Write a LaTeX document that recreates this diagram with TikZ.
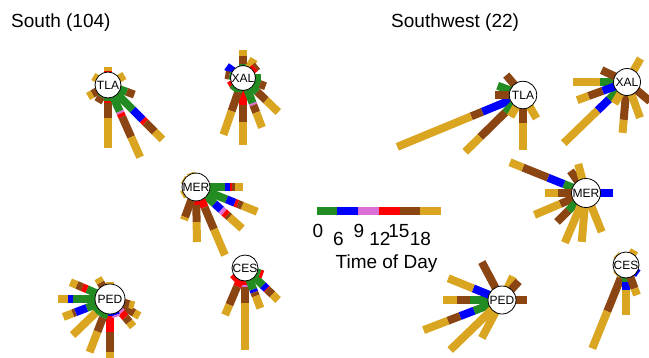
\documentclass[tikz,border=0pt]{standalone}
\usepackage{fontspec}
\setmainfont{Liberation Sans}
\usetikzlibrary{calc}
\definecolor{c0}{RGB}{34,139,34}
\definecolor{c6}{RGB}{0,0,255}
\definecolor{c9}{RGB}{218,112,214}
\definecolor{c12}{RGB}{255,0,0}
\definecolor{c15}{RGB}{139,69,19}
\definecolor{c18}{RGB}{218,165,32}
\def\spoke(#1)(#2)#3{\foreach \col/\rr [remember=\rr as \lastr (initially 0)] in {#3} {\draw[line width=8, color=\col, shift={(#1)}] (#2:\lastr) -- (#2:\rr);}}
\tikzset{
	station/.style={circle, draw=black, line width=0.8, fill=white, inner sep=0pt, font=\fontsize{12}{12}\selectfont},
	title/.style={anchor=base west, inner sep=0pt, font=\fontsize{19}{19}\selectfont},
	hour/.style={anchor=base, inner sep=0pt, font=\fontsize{19}{19}\selectfont}
}

\begin{document}
\begin{tikzpicture}[x=1pt, y=1pt]
		%%%%% START %%%%%
		\useasboundingbox (0,0) rectangle (649,-357);
		
		\node[title] (south) at (11,-27.5) {South (104)};
		\node[title] (southwest) at (391,-27.5) {Southwest (22)};
		
		%% South
		\coordinate (tlaS) at (108,-85);
		\coordinate (xalS) at (243,-78);
		\coordinate (merS) at (196,-187);
		\coordinate (pedS) at (110,-299);
		\coordinate (cesS) at (245,-268);
		
		\spoke(tlaS)(-90){c0/16, c12/18, c15/33, c18/63}
		\spoke(tlaS)(-66){c0/29, c9/31, c12/35, c15/57, c18/79}
		\spoke(tlaS)(-45){c0/35, c6/49, c12/53, c15/66, c18/77}
		\spoke(tlaS)(-20){c0/20, c15/28}
		\spoke(tlaS)(30){c18/19}
		\spoke(tlaS)(90){c12/14, c18/18}
		\spoke(tlaS)(150){c18/17}
		\spoke(tlaS)(-150){c15/18, c18/23}
		\spoke(tlaS)(-120){c0/14, c15/20}
		
		\spoke(xalS)(-90){c12/27, c15/44, c18/67}
		\spoke(xalS)(-109){c0/15, c15/35, c18/60}
		\spoke(xalS)(-69){c0/27, c9/29, c15/37, c18/53}
		\spoke(xalS)(-44){c0/20, c15/32, c18/49}
		\spoke(xalS)(-20){c0/18, c15/24}
		\spoke(xalS)(0){c0/18}
		\spoke(xalS)(90){c0/14, c15/22, c18/28}
		\spoke(xalS)(60){c18/22}
		\spoke(xalS)(40){c12/16, c15/19}
		\spoke(xalS)(145){c6/20}
		\spoke(xalS)(170){c0/14, c15/18}
		\spoke(xalS)(-150){c12/16}
		\spoke(xalS)(-130){c0/16}
		
		\spoke(merS)(0){c0/29, c6/34, c12/36, c15/39, c18/47}
		\spoke(merS)(-22){c0/33, c6/42, c12/45, c15/50, c18/66}
		\spoke(merS)(-42){c0/25, c6/34, c9/38, c12/42, c15/45, c18/62}
		\spoke(merS)(-67){c0/14, c12/22, c15/46, c18/74}
		\spoke(merS)(-89){c12/18, c15/35, c18/55}
		\spoke(merS)(-110){c15/32, c18/35}
		\spoke(merS)(-150){c18/16}
		\spoke(merS)(150){c18/15}
		\spoke(merS)(110){c18/15}
		
		\spoke(pedS)(-90){c0/14, c6/17, c12/33, c15/53, c18/62}
		\spoke(pedS)(-111){c0/20, c15/35, c18/57}
		\spoke(pedS)(-136){c0/20, c18/52}
		\spoke(pedS)(-159){c0/25, c6/37, c15/40, c18/50}
		\spoke(pedS)(180){c0/37, c6/42, c18/52}
		\spoke(pedS)(157){c0/25, c12/30, c15/36, c18/43}
		\spoke(pedS)(120){c15/19, c18/24}
		\spoke(pedS)(90){c18/17}
		\spoke(pedS)(-30){c15/28, c18/34}
		\spoke(pedS)(-50){c9/18, c12/24, c15/30, c18/36}
		\spoke(pedS)(-15){c15/20, c18/25}
		\spoke(pedS)(-70){c6/17, c9/19}
		
		\spoke(cesS)(-90){c12/17, c9/19, c15/35, c18/82}
		\spoke(cesS)(-113){c12/20, c15/40, c18/51}
		\spoke(cesS)(-69){c0/23, c6/26, c15/30, c18/43}
		\spoke(cesS)(-44){c0/25, c6/30, c12/31, c15/38, c18/46}
		\spoke(cesS)(-20){c0/16, c12/19}
		\spoke(cesS)(60){c15/13}
		\spoke(cesS)(-135){c12/17}
		
		\node[station, minimum size=26] (tla1) at (tlaS) {TLA};
		\node[station, minimum size=25] (xal1) at (xalS) {XAL};
		\node[station, minimum size=26] (mer1) at (merS) {MER};
		\node[station, minimum size=30] (ped1) at (pedS) {PED};
		\node[station, minimum size=22] (ces1) at (cesS) {CES};
		
		%% Southwest
		\coordinate (tlaW) at (523,-95);
		\coordinate (xalW) at (627,-82);
		\coordinate (merW) at (586,-193);
		\coordinate (pedW) at (502,-300);
		\coordinate (cesW) at (626,-265);
		
		\spoke(tlaW)(-157.6){c0/14, c6/44, c15/56, c18/136}
		\spoke(tlaW)(-135.5){c0/25, c15/60, c18/81}
		\spoke(tlaW)(-90){c15/28, c18/55}
		\spoke(tlaW)(-60){c18/27}
		\spoke(tlaW)(-120){c18/25}
		\spoke(tlaW)(130){c15/26}
		\spoke(tlaW)(160){c0/27}
		\spoke(tlaW)(180){c15/28}
		
		\spoke(xalW)(-136){c0/25, c6/41, c18/88}
		\spoke(xalW)(180){c0/27, c18/54}
		\spoke(xalW)(-160){c6/26, c15/41, c18/53}
		\spoke(xalW)(155){c15/28}
		\spoke(xalW)(60){c18/27}
		\spoke(xalW)(-95){c15/38, c18/51}
		\spoke(xalW)(-70){c18/38}
		\spoke(xalW)(-40){c15/30}
		\spoke(xalW)(-120){c18/25}
		
		\spoke(merW)(0){c6/27}
		\spoke(merW)(158){c0/24, c6/41, c15/68, c18/82}
		\spoke(merW)(125){c15/27}
		\spoke(merW)(105){c18/30}
		\spoke(merW)(180){c15/28, c18/41}
		\spoke(merW)(-157){c15/28, c18/56}
		\spoke(merW)(-135){c0/25, c15/41}
		\spoke(merW)(-113){c18/54}
		\spoke(merW)(-95){c18/49}
		\spoke(merW)(-68){c18/42}
		
		\spoke(pedW)(180){c0/32, c15/45, c18/59}
		\spoke(pedW)(0){c15/25}
		\spoke(pedW)(158){c6/31, c18/58}
		\spoke(pedW)(-159){c0/30, c6/45, c15/58, c18/84}
		\spoke(pedW)(-136){c18/72}
		\spoke(pedW)(-118){c18/43}
		\spoke(pedW)(118){c15/43}
		\spoke(pedW)(65){c18/26}
		\spoke(pedW)(48){c15/25}
		
		\spoke(cesW)(-112){c0/14, c15/50, c18/90}
		\spoke(cesW)(-90){c0/17, c6/25, c18/50}
		\spoke(cesW)(-70){c15/25, c18/32}
		\spoke(cesW)(-35){c6/15}
		\spoke(cesW)(60){c18/17}
		\spoke(cesW)(135){c18/14}
		\spoke(cesW)(-135){c18/14}
		
		\node[station, minimum size=27.5] (tla2) at (tlaW) {TLA};
		\node[station, minimum size=27] (xal2) at (xalW) {XAL};
		\node[station, minimum size=29] (mer2) at (merW) {MER};
		\node[station, minimum size=28] (ped2) at (pedW) {PED};
		\node[station, minimum size=19] (ces2) at (cesW) {CES};
		
		%% legend
		\foreach \col [count=\i from 0] in {c0,c6,c9,c12,c15,c18}
			\fill[\col] (316.7+20.7*\i,-206.7) rectangle ++(20.7,-8.3);
		\node[hour] (h0) at (318,-237) {0};
		\node[hour] (h6) at (338.5,-245) {6};
		\node[hour] (h9) at (359,-237) {9};
		\node[hour] (h12) at (380,-245) {12};
		\node[hour] (h15) at (399,-237) {15};
		\node[hour] (h18) at (420.5,-245) {18};
		\node[hour] (tod) at (386.5,-268) {Time of Day};
		
		%%%%% END %%%%%
	\end{tikzpicture}
\end{document}
